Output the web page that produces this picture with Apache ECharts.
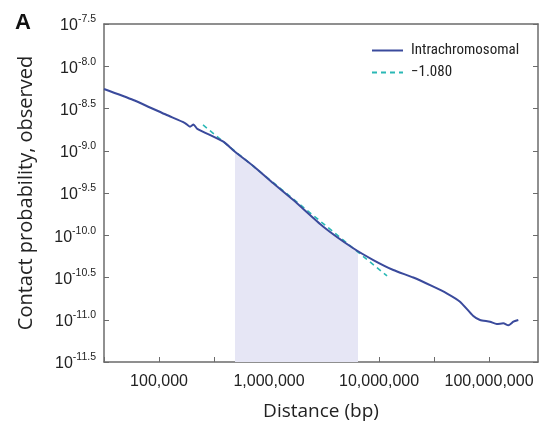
<!DOCTYPE html>
<html>
<head>
<meta charset="utf-8">
<script src="https://cdn.jsdelivr.net/npm/echarts@6/dist/echarts.min.js"></script>
<style>
html,body{margin:0;padding:0;background:#fff;}
#chart{width:540px;height:427px;}
</style>
</head>
<body>
<div id="chart"></div>
<script>
// Distances and probabilities stored as log10 exponents
const distanceExp = [4.500, 4.766, 5.070, 5.236, 5.282, 5.314, 5.345, 5.585, 5.682, 5.857, 6.039, 6.221, 6.494, 6.766, 6.948, 7.130, 7.312, 7.494, 7.615, 7.736, 7.857, 7.918, 8.009, 8.070, 8.130, 8.175, 8.221, 8.266];
const contactExp  = [-8.269, -8.399, -8.577, -8.672, -8.715, -8.689, -8.737, -8.893, -9.003, -9.180, -9.385, -9.583, -9.899, -10.154, -10.293, -10.411, -10.500, -10.609, -10.687, -10.786, -10.956, -11.003, -11.023, -11.050, -11.042, -11.066, -11.023, -11.003];
// Power-law fit (slope -1.080) endpoints
const fitDistanceExp = [5.400, 7.073];
const fitContactExp  = [-8.695, -10.482];
// Shaded fitting range (about 500 kb to 6.4 Mb), upper edge
const shadeDistanceExp = [5.691, 5.857, 6.039, 6.221, 6.494, 6.766, 6.809];
const shadeContactExp  = [-9.015, -9.180, -9.385, -9.583, -9.899, -10.154, -10.175];
// Axis ticks
const xTickExp = [5, 6, 7, 8];
const yTickExp = [-7.5, -8.0, -8.5, -9.0, -9.5, -10.0, -10.5, -11.0, -11.5];
const seriesNames = ['Intrachromosomal', '\u22121.080'];

const zip = (a, b) => a.map((v, i) => [v, b[i]]);
const FONT = '"Liberation Sans", Arial, sans-serif';
const TITLEFONT = '"Open Sans", "Liberation Sans", Arial, sans-serif';
const NARROW = '"Liberation Sans Narrow", "Roboto Condensed", "Liberation Sans", sans-serif';

const chart = echarts.init(document.getElementById('chart'), null, {renderer: 'canvas'});
const fmtY = v => '{b|10}{s|' + v.toFixed(1) + '}';
const fmtX = v => {
  const r = Math.round(v);
  if (Math.abs(v - r) < 1e-6 && xTickExp.indexOf(r) >= 0) {
    return Math.pow(10, r).toLocaleString('en-US');
  }
  return '';
};
const frame = {show: true, lineStyle: {color: '#6b6b6b', width: 1.5}};
chart.setOption({
  animation: false,
  backgroundColor: '#fff',
  textStyle: {fontFamily: FONT},
  title: {text: 'A', left: 10, top: 7, textStyle: {fontSize: 22, fontWeight: 'bold', color: '#111', fontFamily: FONT}},
  grid: {left: 104, top: 24, right: 2, bottom: 65, containLabel: false},
  legend: {
    left: 366, top: 38, orient: 'vertical', itemWidth: 31, itemHeight: 10, itemGap: 7,
    itemStyle: {opacity: 0},
    textStyle: {fontSize: 15, color: '#222', fontFamily: NARROW, padding: [0, 0, 0, 3]},
    data: seriesNames
  },
  xAxis: [{
    type: 'value', min: 4.5, max: 8.445, interval: 0.5,
    axisLine: frame,
    axisTick: {show: true, inside: true, length: 5, lineStyle: {color: '#6b6b6b', width: 1}},
    axisLabel: {formatter: fmtX, fontSize: 16, color: '#222', margin: 12, fontFamily: FONT, showMaxLabel: false},
    splitLine: {show: false},
    name: 'Distance (bp)', nameLocation: 'middle', nameGap: 40,
    nameTextStyle: {fontSize: 19, color: '#222', fontFamily: TITLEFONT}
  }, {
    type: 'value', position: 'top', min: 4.5, max: 8.445,
    axisLine: frame, axisTick: {show: false}, axisLabel: {show: false}, splitLine: {show: false}
  }],
  yAxis: [{
    type: 'value', min: -11.5, max: -7.5, interval: 0.5,
    axisLine: frame,
    axisTick: {show: true, inside: true, length: 5, lineStyle: {color: '#6b6b6b', width: 1}},
    axisLabel: {
      formatter: fmtY, margin: 8, color: '#222',
      rich: {
        b: {fontSize: 16, color: '#222', fontFamily: FONT, verticalAlign: 'bottom'},
        s: {fontSize: 10.5, color: '#222', fontFamily: FONT, verticalAlign: 'bottom', padding: [0, 0, 9, 0]}
      }
    },
    splitLine: {show: false},
    name: 'Contact probability, observed', nameLocation: 'middle', nameGap: 68, nameRotate: 90,
    nameTextStyle: {fontSize: 20, color: '#222', fontFamily: TITLEFONT}
  }, {
    type: 'value', position: 'right', min: -11.5, max: -7.5, interval: 0.5,
    axisLine: frame,
    axisTick: {show: true, inside: true, length: 5, lineStyle: {color: '#6b6b6b', width: 1}},
    axisLabel: {show: false}, splitLine: {show: false}
  }],
  series: [{
    name: 'shade', type: 'line', data: zip(shadeDistanceExp, shadeContactExp),
    symbol: 'none', silent: true, z: 1,
    lineStyle: {width: 0, opacity: 0},
    areaStyle: {color: '#e6e6f5', opacity: 1, origin: 'start'}
  }, {
    name: seriesNames[1], type: 'line', data: zip(fitDistanceExp, fitContactExp),
    symbol: 'none', z: 3,
    lineStyle: {color: '#2ab8b5', width: 1.6, type: [5, 4]},
    itemStyle: {color: '#2ab8b5'}
  }, {
    name: seriesNames[0], type: 'line', data: zip(distanceExp, contactExp),
    symbol: 'none', smooth: 0.2, z: 4,
    lineStyle: {color: '#3a4a9c', width: 2},
    itemStyle: {color: '#3a4a9c'}
  }]
});
</script>
</body>
</html>
